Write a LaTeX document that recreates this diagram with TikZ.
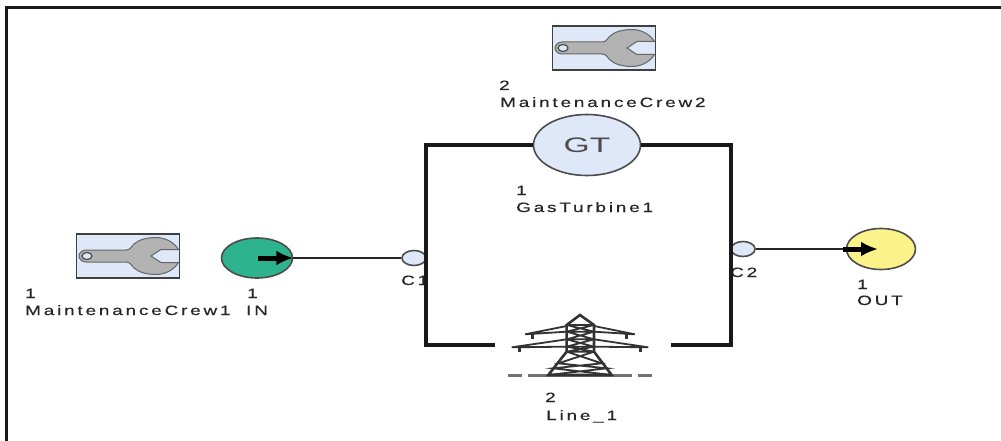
\documentclass[tikz,border=0pt]{standalone}
\usepackage{fontspec}
\setmainfont{Liberation Sans}
\newfontfamily\lblfont[FakeStretch=1.4,LetterSpace=21,FakeBold=0.4]{Liberation Sans}
\newfontfamily\gtfont[FakeStretch=1.6]{Liberation Sans}
\usetikzlibrary{shapes.geometric,arrows.meta}
\definecolor{teal1}{RGB}{45,180,143}
\definecolor{yel1}{RGB}{251,243,138}
\definecolor{pale}{RGB}{222,232,248}
\tikzset{
  lbl/.style={font=\lblfont\fontsize{13.5}{13.5}\selectfont,text=black!85,inner sep=0pt,anchor=base west},
  rail/.style={line width=3.6pt,black!90},
  wire/.style={line width=2.8pt,black!85},
  port/.style={draw=black!70,line width=1.6pt,fill=#1,ellipse,inner sep=0pt},
  wrenchbox/.style={draw=black!75,line width=1.8pt,fill=pale,inner sep=0pt,minimum width=103pt,minimum height=44pt},
  tip/.style={line width=5pt,black,-{Latex[length=17pt,width=15pt]}}
}
\newcommand{\wrench}{%
  \filldraw[fill=black!30,draw=black!60,line width=1pt]
     (-42,-6) -- (-2,-6)
     .. controls (2,-6) and (3,-9) .. (6,-12)
     .. controls (11,-16.5) and (19,-18.5) .. (28,-18.5)
     .. controls (37,-18.5) and (46,-14) .. (50.5,-6.5)
     -- (33,-6.5) -- (23,0) -- (33,6.5) -- (50.5,6.5)
     .. controls (46,14) and (37,18.5) .. (28,18.5)
     .. controls (19,18.5) and (11,16.5) .. (6,12)
     .. controls (3,9) and (2,6) .. (-2,6)
     -- (-42,6) .. controls (-46,6) and (-49,3) .. (-49,0)
     .. controls (-49,-3) and (-46,-6) .. (-42,-6) -- cycle;
  \filldraw[fill=pale,draw=black!70,line width=1.2pt] (-41,0) ellipse[x radius=5,y radius=3.5];
}
\begin{document}
\begin{tikzpicture}[x=1pt,y=-1pt]
\useasboundingbox (0,0) rectangle (1001,441);
\fill[white] (0,0) rectangle (1001,441);
% frame
\coordinate (fbl) at (6,441); \coordinate (ftl) at (6,8); \coordinate (ftr) at (1001,8);
\draw[line width=3pt,black!90] (fbl) -- (ftl) -- (ftr);
% wrench boxes
\node[wrenchbox] (crewtwo) at (604,48) {};
\begin{scope}[shift={(604,48)}]\wrench\end{scope}
\node[wrenchbox] (crewone) at (128,256) {};
\begin{scope}[shift={(128,256)}]\wrench\end{scope}
% ports
\node[port=pale,minimum width=24pt,minimum height=15pt] (cone) at (414,258) {};
\node[port=pale,minimum width=24pt,minimum height=15pt] (ctwo) at (743,249) {};
\node[lbl] (l7) at (401,285) {C1};
\node[lbl] (l8) at (730,277) {C2};
% gas turbine
\node[port=pale,minimum width=107pt,minimum height=61pt,font=\gtfont\fontsize{21}{21}\selectfont,text=black!70] (gt) at (587,145) {GT};
% rails
\coordinate (lt) at (426,145); \coordinate (lb) at (426,345); \coordinate (rt) at (731,145); \coordinate (rb) at (731,345);
\coordinate (tl) at (495,345); \coordinate (tr) at (671,345);
\draw[rail] (gt.west) -- (lt) -- (lb) -- (tl);
\draw[rail] (gt.east) -- (rt) -- (rb) -- (tr);
% source, sink
\node[port=teal1,minimum width=71pt,minimum height=40pt] (in) at (257,258) {};
\node[port=yel1,minimum width=69pt,minimum height=41pt] (out) at (881,249) {};
\coordinate (intail) at (258,258);
\coordinate (outtail) at (843,249);
\coordinate (outhead) at (878,249);
\draw[wire] (in.east) -- (cone.west);
\draw[wire] (ctwo.east) -- (outtail);
\draw[tip] (intail) -- (in.east);
\draw[tip] (outtail) -- (outhead);
% tower
\begin{scope}[shift={(470,300)},x=0.3333pt,y=-0.3333pt,black!80]
  \draw[line width=2.4pt,black!55] (115,227) -- (155,227) (175,227) -- (485,227) (505,227) -- (545,227);
  \draw[line width=2.6pt] (235,225) -- (290,155) -- (290,75) -- (330,45) -- (372,75) -- (372,155) -- (425,225) -- cycle;
  \draw[line width=1.8pt] (290,75) -- (372,75) (290,95) -- (372,95) (290,118) -- (372,118) (290,140) -- (372,140) (290,155) -- (372,155)
     (290,75) -- (372,95) -- (290,118) -- (372,140) -- (290,155)
     (372,75) -- (290,95) -- (372,118) -- (290,140) -- (372,155)
     (290,155) -- (395,190) -- (250,205) -- (425,225)
     (372,155) -- (265,190) -- (410,205) -- (235,225);
  \draw[line width=1.8pt] (165,103) -- (290,78) (165,103) -- (290,95)
     (495,103) -- (372,78) (495,103) -- (372,95)
     (125,142) -- (290,118) (125,142) -- (290,140)
     (535,142) -- (372,118) (535,142) -- (372,140);
  \draw[line width=3pt] (188,103) -- (188,117) (470,103) -- (470,117) (148,142) -- (148,157) (512,142) -- (512,157);
\end{scope}
% labels
\node[lbl] (l1) at (25,298) {1};
\node[lbl] (l1b) at (25,315) {MaintenanceCrew1};
\node[lbl] (l2) at (247,298) {1};
\node[lbl] (l2b) at (246,315) {IN};
\node[lbl] (l3) at (499,90) {2};
\node[lbl] (l3b) at (500,107) {MaintenanceCrew2};
\node[lbl] (l4) at (516,195) {1};
\node[lbl] (l4b) at (516,212) {GasTurbine1};
\node[lbl] (l5) at (857,289) {1};
\node[lbl] (l5b) at (857,305) {OUT};
\node[lbl] (l6) at (545,402) {2};
\node[lbl] (l6b) at (546,420) {Line\_1};
\end{tikzpicture}
\end{document}
